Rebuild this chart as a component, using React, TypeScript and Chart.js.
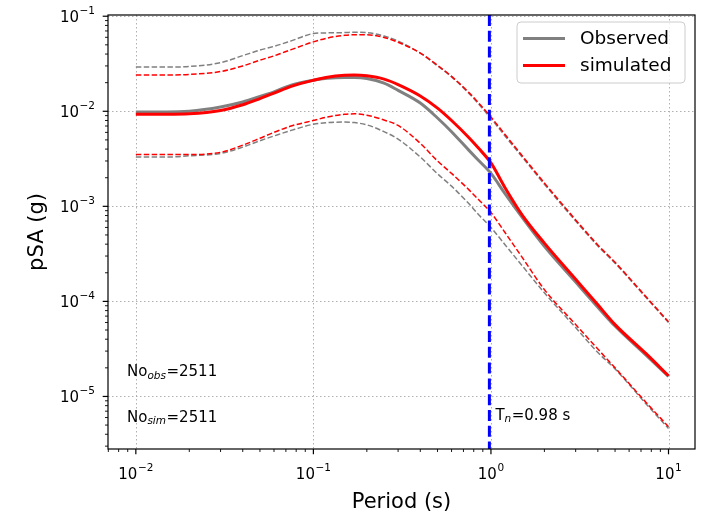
import { useEffect, useRef } from "react";
import { Chart, registerables } from "chart.js";

Chart.register(...registerables);

// ---------------- data ----------------
const PERIODS = [0.01, 0.015, 0.02, 0.03, 0.04, 0.05, 0.06, 0.075, 0.1, 0.12, 0.15, 0.17, 0.2, 0.25, 0.3, 0.4, 0.5, 0.6, 0.75, 0.85, 1.0, 1.2, 1.5, 2.0, 3.0, 4.0, 5.0, 7.5, 10];

const OBS_MEAN = [0.0098, 0.0098, 0.0100, 0.0111, 0.0125, 0.0143, 0.0160, 0.0188, 0.0212, 0.0222, 0.0226, 0.0226, 0.0221, 0.0198, 0.0166, 0.0122, 0.0085, 0.0061, 0.0039, 0.00305, 0.00222, 0.00136, 0.000765, 0.00038, 0.00016, 0.000087, 0.000055, 0.000027, 0.0000162];
const OBS_UPPER = [0.0292, 0.0292, 0.0296, 0.0325, 0.0385, 0.0440, 0.0482, 0.0550, 0.0657, 0.0668, 0.0673, 0.0678, 0.0672, 0.0620, 0.0548, 0.0410, 0.0300, 0.0230, 0.0155, 0.0120, 0.0084, 0.0055, 0.0033, 0.00171, 0.00070, 0.000383, 0.000252, 0.000109, 0.0000600];
const OBS_LOWER = [0.0033, 0.0033, 0.0034, 0.0036, 0.0042, 0.0049, 0.0055, 0.0063, 0.0073, 0.0076, 0.0077, 0.0076, 0.0072, 0.0061, 0.0051, 0.0033, 0.0022, 0.00163, 0.00107, 0.00082, 0.00060, 0.000395, 0.000237, 0.000123, 0.000053, 0.000029, 0.0000195, 0.0000083, 0.0000046];

const SIM_MEAN = [0.0093, 0.0093, 0.0094, 0.0102, 0.0117, 0.0136, 0.0155, 0.0183, 0.0212, 0.0228, 0.0239, 0.0241, 0.0236, 0.0218, 0.0191, 0.0145, 0.0108, 0.0080, 0.0053, 0.0041, 0.00286, 0.00157, 0.00081, 0.00041, 0.000171, 0.000092, 0.000057, 0.000028, 0.0000165];
const SIM_UPPER = [0.0241, 0.0241, 0.0244, 0.0262, 0.0300, 0.0345, 0.0383, 0.0445, 0.0537, 0.0590, 0.0630, 0.0638, 0.0638, 0.0598, 0.0532, 0.0410, 0.0305, 0.0233, 0.0158, 0.0123, 0.0087, 0.0057, 0.0034, 0.00176, 0.00072, 0.000392, 0.000258, 0.000111, 0.0000610];
const SIM_LOWER = [0.0035, 0.0035, 0.0035, 0.0037, 0.0044, 0.0052, 0.0060, 0.0070, 0.0080, 0.0087, 0.0093, 0.0094, 0.0091, 0.0081, 0.0071, 0.0046, 0.0030, 0.00222, 0.00150, 0.00118, 0.00086, 0.00053, 0.00029, 0.000133, 0.000057, 0.0000315, 0.0000200, 0.0000086, 0.0000048];

const TN = 0.98;
const SERIES_LABELS = ["Observed", "simulated"];
const X_TICKS = [0.01, 0.1, 1, 10];
const X_TICK_LABELS = ["10^\u22122", "10^\u22121", "10^0", "10^1"];
const Y_TICKS = [1e-5, 1e-4, 1e-3, 1e-2, 1e-1];
const Y_TICK_LABELS = ["10^\u22125", "10^\u22124", "10^\u22123", "10^\u22122", "10^\u22121"];
const X_TITLE = "Period (s)";
const Y_TITLE = "pSA (g)";
const NO_OBS_TEXT = ["No", "obs", "=2511"];
const NO_SIM_TEXT = ["No", "sim", "=2511"];
const TN_TEXT = ["T", "n", "=0.98 s"];

const X_MIN = 0.00697;
const X_MAX = 14.1;
const Y_MIN = 2.8e-6;
const Y_MAX = 0.103;

// ---------------- styles ----------------
const FONT = '"DejaVu Sans", sans-serif';
const GRAY = "#808080";
const RED = "#ff0000";
const BLUE = "#0000ff";

function toPoints(vals: number[]) {
  return PERIODS.map((p, i) => ({ x: p, y: vals[i] }));
}

function drawPow(ctx: CanvasRenderingContext2D, label: string, x: number, baseline: number, align: "center" | "right") {
  const [base, sup] = label.split("^");
  ctx.font = `15px ${FONT}`;
  const wb = ctx.measureText(base).width;
  ctx.font = `10.5px ${FONT}`;
  const ws = ctx.measureText(sup).width;
  const total = wb + ws + 0.5;
  const x0 = align === "center" ? x - total / 2 : x - total;
  ctx.textAlign = "left";
  ctx.textBaseline = "alphabetic";
  ctx.font = `15px ${FONT}`;
  ctx.fillText(base, x0, baseline);
  ctx.font = `10.5px ${FONT}`;
  ctx.fillText(sup, x0 + wb + 0.5, baseline - 8);
}

function drawSub(ctx: CanvasRenderingContext2D, parts: string[], x: number, baseline: number) {
  ctx.textAlign = "left";
  ctx.textBaseline = "alphabetic";
  ctx.font = `15px ${FONT}`;
  ctx.fillText(parts[0], x, baseline);
  let cx = x + ctx.measureText(parts[0]).width;
  ctx.font = `italic 10.5px ${FONT}`;
  ctx.fillText(parts[1], cx, baseline + 2.5);
  cx += ctx.measureText(parts[1]).width + 0.5;
  ctx.font = `15px ${FONT}`;
  ctx.fillText(parts[2], cx, baseline);
}

const overlayPlugin = {
  id: "overlay",
  beforeDatasetsDraw(chart: any) {
    const { ctx, chartArea: a, scales } = chart;
    const xs = scales.x;
    const ys = scales.y;
    ctx.save();
    ctx.strokeStyle = "#b0b0b0";
    ctx.lineWidth = 1;
    ctx.setLineDash([1.5, 2.5]);
    for (const v of X_TICKS) {
      const px = Math.round(xs.getPixelForValue(v)) + 0.5;
      ctx.beginPath();
      ctx.moveTo(px, a.top);
      ctx.lineTo(px, a.bottom);
      ctx.stroke();
    }
    for (const v of Y_TICKS) {
      const py = Math.round(ys.getPixelForValue(v)) + 0.5;
      ctx.beginPath();
      ctx.moveTo(a.left, py);
      ctx.lineTo(a.right, py);
      ctx.stroke();
    }
    ctx.restore();
  },
  afterDatasetsDraw(chart: any) {
    const { ctx, chartArea: a, scales } = chart;
    const xs = scales.x;
    const ys = scales.y;
    ctx.save();

    // vertical Tn line
    const tx = xs.getPixelForValue(TN);
    ctx.strokeStyle = BLUE;
    ctx.lineWidth = 3;
    ctx.setLineDash([11, 4.8]);
    ctx.beginPath();
    ctx.moveTo(tx, a.top);
    ctx.lineTo(tx, a.bottom);
    ctx.stroke();
    ctx.setLineDash([]);

    // frame
    ctx.strokeStyle = "#000";
    ctx.lineWidth = 1.2;
    ctx.strokeRect(a.left, a.top, a.right - a.left, a.bottom - a.top);

    // ticks
    ctx.lineWidth = 1.2;
    for (const v of X_TICKS) {
      const px = xs.getPixelForValue(v);
      ctx.beginPath();
      ctx.moveTo(px, a.bottom);
      ctx.lineTo(px, a.bottom + 5.3);
      ctx.stroke();
    }
    for (const v of Y_TICKS) {
      const py = ys.getPixelForValue(v);
      ctx.beginPath();
      ctx.moveTo(a.left, py);
      ctx.lineTo(a.left - 5.3, py);
      ctx.stroke();
    }
    ctx.lineWidth = 0.9;
    for (let d = -3; d <= 1; d++) {
      for (let k = 2; k <= 9; k++) {
        const v = k * Math.pow(10, d);
        if (v > X_MIN && v < X_MAX) {
          const px = xs.getPixelForValue(v);
          ctx.beginPath();
          ctx.moveTo(px, a.bottom);
          ctx.lineTo(px, a.bottom + 3);
          ctx.stroke();
        }
      }
    }
    for (let d = -6; d <= -1; d++) {
      for (let k = 2; k <= 9; k++) {
        const v = k * Math.pow(10, d);
        if (v > Y_MIN && v < Y_MAX) {
          const py = ys.getPixelForValue(v);
          ctx.beginPath();
          ctx.moveTo(a.left, py);
          ctx.lineTo(a.left - 3, py);
          ctx.stroke();
        }
      }
    }

    // tick labels
    ctx.fillStyle = "#000";
    X_TICKS.forEach((v, i) => {
      drawPow(ctx, X_TICK_LABELS[i], xs.getPixelForValue(v), a.bottom + 30, "center");
    });
    Y_TICKS.forEach((v, i) => {
      drawPow(ctx, Y_TICK_LABELS[i], a.left - 13, ys.getPixelForValue(v) + 6, "right");
    });

    // axis titles
    ctx.font = `21px ${FONT}`;
    ctx.textAlign = "center";
    ctx.textBaseline = "alphabetic";
    ctx.fillText(X_TITLE, (a.left + a.right) / 2, a.bottom + 59);
    ctx.save();
    ctx.translate(43, (a.top + a.bottom) / 2);
    ctx.rotate(-Math.PI / 2);
    ctx.fillText(Y_TITLE, 0, 0);
    ctx.restore();

    // annotations
    drawSub(ctx, NO_OBS_TEXT, a.left + 19, a.bottom - 73);
    drawSub(ctx, NO_SIM_TEXT, a.left + 19, a.bottom - 27.5);
    drawSub(ctx, TN_TEXT, tx + 6, a.bottom - 29.5);

    // legend
    const bw = 168;
    const bh = 61;
    const bx = a.right - 10 - bw;
    const by = a.top + 7;
    ctx.beginPath();
    ctx.roundRect(bx, by, bw, bh, 4);
    ctx.fillStyle = "rgba(255,255,255,0.8)";
    ctx.fill();
    ctx.strokeStyle = "#cccccc";
    ctx.lineWidth = 1;
    ctx.stroke();
    const colors = [GRAY, RED];
    SERIES_LABELS.forEach((lab, i) => {
      const cy = by + 16.5 + i * 27;
      ctx.strokeStyle = colors[i];
      ctx.lineWidth = 3;
      ctx.beginPath();
      ctx.moveTo(bx + 6, cy);
      ctx.lineTo(bx + 48, cy);
      ctx.stroke();
      ctx.fillStyle = "#000";
      ctx.font = `18.5px ${FONT}`;
      ctx.textAlign = "left";
      ctx.textBaseline = "middle";
      ctx.fillText(lab, bx + 63, cy + 1);
    });

    ctx.restore();
  },
};

export default function App() {
  const ref = useRef<HTMLCanvasElement | null>(null);

  useEffect(() => {
    if (!ref.current) return;
    const thin = { borderWidth: 1.5, borderDash: [5.5, 2.4], pointRadius: 0, fill: false, tension: 0, cubicInterpolationMode: "monotone" as const };
    const thick = { borderWidth: 3, pointRadius: 0, fill: false, cubicInterpolationMode: "monotone" as const };
    const chart = new Chart(ref.current, {
      type: "line",
      data: {
        datasets: [
          { label: SERIES_LABELS[1], data: toPoints(SIM_MEAN), borderColor: RED, order: 0, ...thick },
          { label: SERIES_LABELS[1] + " +σ", data: toPoints(SIM_UPPER), borderColor: RED, order: 1, ...thin },
          { label: SERIES_LABELS[1] + " −σ", data: toPoints(SIM_LOWER), borderColor: RED, order: 1, ...thin },
          { label: SERIES_LABELS[0], data: toPoints(OBS_MEAN), borderColor: GRAY, order: 2, ...thick },
          { label: SERIES_LABELS[0] + " +σ", data: toPoints(OBS_UPPER), borderColor: GRAY, order: 3, ...thin },
          { label: SERIES_LABELS[0] + " −σ", data: toPoints(OBS_LOWER), borderColor: GRAY, order: 3, ...thin },
        ],
      },
      options: {
        responsive: false,
        animation: false,
        devicePixelRatio: 1,
        layout: { padding: { left: 0, right: 11, top: 15, bottom: 0 } },
        plugins: { legend: { display: false }, tooltip: { enabled: false }, title: { display: false } },
        scales: {
          x: {
            type: "logarithmic",
            min: X_MIN,
            max: X_MAX,
            bounds: "data",
            grid: { display: false, drawTicks: false },
            border: { display: false },
            ticks: { display: false },
            afterFit: (s: any) => { s.height = 68; },
          },
          y: {
            type: "logarithmic",
            min: Y_MIN,
            max: Y_MAX,
            bounds: "data",
            grid: { display: false, drawTicks: false },
            border: { display: false },
            ticks: { display: false },
            afterFit: (s: any) => { s.width = 108; },
          },
        },
      },
      plugins: [overlayPlugin],
    } as any);
    return () => chart.destroy();
  }, []);

  return (
    <div style={{ position: "absolute", left: 0, top: 0, width: 706, height: 517, background: "#fff" }}>
      <canvas ref={ref} width={706} height={517} style={{ display: "block", width: 706, height: 517 }} />
    </div>
  );
}
